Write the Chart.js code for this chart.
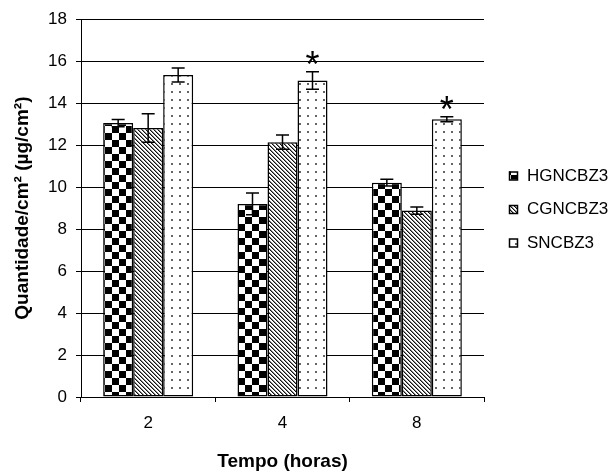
<!DOCTYPE html>
<html>
<head>
<meta charset="utf-8">
<title>Quantidade por tempo</title>
<script src="https://cdn.jsdelivr.net/npm/chart.js@4.4.1/dist/chart.umd.min.js"></script>
<style>
  html, body { margin: 0; padding: 0; background: #fff; }
</style>
</head>
<body>
<canvas id="chart" width="613" height="474"></canvas>
<script>
// ===== DATA =====
const horas = ["2", "4", "8"];
const seriesNames = ["HGNCBZ3", "CGNCBZ3", "SNCBZ3"];
const hgValues = [13.05, 9.2, 10.21];
const hgErrors = [0.17, 0.52, 0.16];
const cgValues = [12.82, 12.14, 8.88];
const cgErrors = [0.68, 0.34, 0.17];
const snValues = [15.34, 15.08, 13.23];
const snErrors = [0.33, 0.42, 0.12];
// * = diferença significativa (só SNCBZ3)
const snSignif = [false, true, true];
const yTicks = [0, 2, 4, 6, 8, 10, 12, 14, 16, 18];

const FONT = "'Liberation Sans', Arial, sans-serif";
const canvas = document.getElementById("chart");
const ctx = canvas.getContext("2d");

// ===== PATTERNS =====
function makePattern(size, draw) {
  const c = document.createElement("canvas");
  c.width = size;
  c.height = size;
  const g = c.getContext("2d");
  g.fillStyle = "#fff";
  g.fillRect(0, 0, size, size);
  draw(g, size);
  return ctx.createPattern(c, "repeat");
}

const checker = makePattern(14, (g) => {
  g.fillStyle = "#000";
  g.fillRect(0, 0, 7, 7);
  g.fillRect(7, 7, 7, 7);
});

const hatch = makePattern(4, (g, s) => {
  for (let i = 0; i < s; i++) {
    g.fillStyle = "#111";
    g.fillRect(i, i, 1, 1);
    g.fillStyle = "#888";
    g.fillRect((i + 1) % s, i, 1, 1);
  }
});

const dots = makePattern(8, (g) => {
  g.fillStyle = "#666";
  g.fillRect(3, 3, 2, 2);
});

const errors = [hgErrors, cgErrors, snErrors];

// ===== ERROR BARS + ASTERISKS =====
const errorBarPlugin = {
  id: "errorBars",
  afterDatasetsDraw(chart) {
    const c = chart.ctx;
    const y = chart.scales.y;
    c.save();
    c.strokeStyle = "#000";
    c.lineWidth = 1.5;
    chart.data.datasets.forEach((ds, i) => {
      const meta = chart.getDatasetMeta(i);
      meta.data.forEach((bar, j) => {
        const v = ds.data[j];
        const e = errors[i][j];
        const top = y.getPixelForValue(v + e);
        const bot = y.getPixelForValue(v - e);
        c.beginPath();
        c.moveTo(bar.x, top);
        c.lineTo(bar.x, bot);
        c.moveTo(bar.x - 6.5, top);
        c.lineTo(bar.x + 6.5, top);
        c.moveTo(bar.x - 6.5, bot);
        c.lineTo(bar.x + 6.5, bot);
        c.stroke();

        if (i === 2 && snSignif[j]) {
          c.font = "36px " + FONT;
          c.fillStyle = "#000";
          c.textAlign = "center";
          c.textBaseline = "alphabetic";
          const m = c.measureText("*");
          // base do glifo 7px acima da barra de erro
          c.fillText("*", bar.x, top - 7 - m.actualBoundingBoxDescent);
        }
      });
    });
    c.restore();
  },
};

// ===== LEGEND (right side) =====
const sideLegend = {
  id: "sideLegend",
  afterDraw(chart) {
    const c = chart.ctx;
    const x0 = chart.chartArea.right + 25;
    c.save();
    c.font = "17px " + FONT;
    c.textBaseline = "middle";
    c.textAlign = "left";
    chart.data.datasets.forEach((ds, i) => {
      const yc = 175 + i * 33.5;
      c.fillStyle = ds.backgroundColor;
      c.fillRect(x0, yc - 3.5, 8, 8);
      c.strokeStyle = "#000";
      c.lineWidth = 1.5;
      c.strokeRect(x0 + 0.5, yc - 3, 8, 8);
      c.fillStyle = "#000";
      c.fillText(ds.label, x0 + 18, yc + 1);
    });
    c.restore();
  },
};

// ===== CHART =====
const barStyle = {
  borderColor: "#000",
  borderWidth: 1.5,
  borderSkipped: false,
  categoryPercentage: 0.67,
  barPercentage: 1.0,
};

new Chart(canvas, {
  type: "bar",
  data: {
    labels: horas,
    datasets: [
      { label: seriesNames[0], data: hgValues, backgroundColor: checker, ...barStyle },
      { label: seriesNames[1], data: cgValues, backgroundColor: hatch, ...barStyle },
      { label: seriesNames[2], data: snValues, backgroundColor: dots, ...barStyle },
    ],
  },
  options: {
    responsive: false,
    animation: false,
    layout: { padding: { top: 18, right: 129, left: 0, bottom: 0 } },
    plugins: {
      legend: { display: false },
      tooltip: { enabled: false },
    },
    scales: {
      x: {
        grid: {
          display: true,
          drawOnChartArea: false,
          color: "#000",
          tickLength: 5,
          offset: true,
        },
        border: { color: "#000", width: 1 },
        ticks: { color: "#000", font: { family: FONT, size: 17 }, padding: 11 },
        title: {
          display: true,
          text: "Tempo (horas)",
          color: "#000",
          font: { family: FONT, size: 19, weight: "bold" },
          padding: { top: 0, bottom: 1 },
        },
        afterFit: (s) => { s.height = 77; },
      },
      y: {
        min: 0,
        max: 18,
        afterBuildTicks: (s) => { s.ticks = yTicks.map((v) => ({ value: v })); },
        grid: { color: "#000", lineWidth: 1, tickLength: 5 },
        border: { color: "#000", width: 1 },
        ticks: { color: "#000", font: { family: FONT, size: 17 }, padding: 9 },
        title: {
          display: true,
          text: "Quantidade/cm² (µg/cm²)",
          color: "#000",
          font: { family: FONT, size: 19, weight: "bold" },
          padding: { top: 11, bottom: 0 },
        },
        afterFit: (s) => { s.width = 81; },
      },
    },
  },
  plugins: [errorBarPlugin, sideLegend],
});
</script>
</body>
</html>
